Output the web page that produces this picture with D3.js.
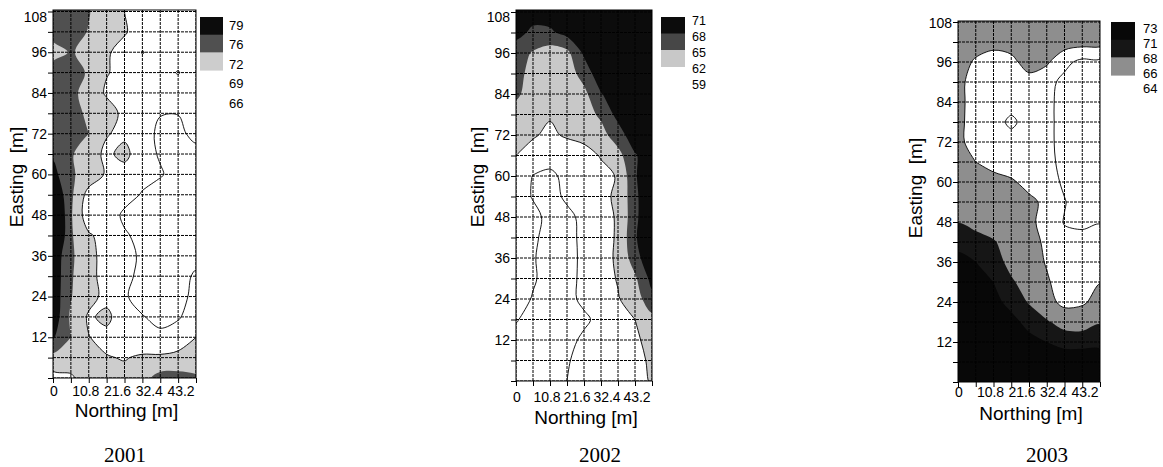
<!DOCTYPE html>
<html>
<head>
<meta charset="utf-8">
<script src="https://cdn.jsdelivr.net/npm/d3@7"></script>
<style>
  body { margin: 0; background: #fff; }
  text { font-family: "Liberation Sans", Arial, sans-serif; fill: #000; }
  .year { font-family: "Liberation Serif", "Times New Roman", serif; }
</style>
</head>
<body>
<svg id="chart" width="1163" height="467"></svg>
<script>
/* grid of the survey: columns along Northing, rows along Easting (top row = 108 m) */
var northing = [0, 5.4, 10.8, 16.2, 21.6, 27, 32.4, 37.8, 43.2];
var easting = [108, 102, 96, 90, 84, 78, 72, 66, 60, 54, 48, 42, 36, 30, 24, 18, 12, 6, 0];
var northingTicks = [0, 10.8, 21.6, 32.4, 43.2];
var eastingTicks = [12, 24, 36, 48, 60, 72, 84, 96, 108];
var years = ["2001", "2002", "2003"];

/* contour levels (legend values) per year */
var levels2001 = [66, 69, 72, 76, 79];
var levels2002 = [59, 62, 65, 68, 71];
var levels2003 = [64, 66, 68, 71, 73];

/* values at the grid nodes */
var grid2001 = [
  [78, 77.5, 76.2, 74, 72, 70.5, 70, 70, 70],
  [77.5, 77.5, 75.8, 74, 72.3, 70.5, 70, 70, 70],
  [74.5, 76.3, 75, 72.4, 70.8, 68.9, 69.8, 70, 70],
  [78, 77.5, 75.6, 72.2, 71, 70, 69.6, 68.9, 70],
  [78, 77, 74.5, 71.5, 70.5, 70, 70, 70, 70],
  [78, 77, 75.5, 73.8, 71, 70, 69.1, 69.05, 70],
  [78, 77.5, 76, 72.2, 71.3, 70, 68.5, 68.5, 69.6],
  [78.5, 76.5, 73.5, 71.3, 73, 69.8, 68.8, 68.2, 68.3],
  [80, 76.5, 74.5, 71.5, 70.5, 69.8, 69.2, 68.2, 68],
  [82, 76.8, 70.5, 70.5, 70, 68.8, 68, 67.5, 67.5],
  [84, 76.5, 69.5, 70.5, 68.5, 68, 67.5, 67.5, 67.5],
  [84, 76.5, 72.5, 70.5, 69.3, 68.3, 67.8, 67.8, 68],
  [81, 76.8, 72.8, 71, 69.6, 68.7, 68, 68, 68.3],
  [81, 76.5, 72.8, 71, 69.5, 68.5, 68, 68.2, 69.3],
  [81, 76.2, 73.2, 71, 69.2, 68.3, 68, 68.4, 69.5],
  [81, 75.5, 71.5, 72.8, 70, 69.1, 68.5, 68.8, 70],
  [79.3, 76, 72.1, 71, 70.5, 69.5, 69.4, 70, 72],
  [75, 73.8, 73, 72.2, 71.8, 72.5, 72.5, 73, 74],
  [70.5, 71.5, 73.5, 73, 73, 74.5, 77.5, 77.5, 76.5]
];

var grid2002 = [
  [72, 72, 72.5, 73, 73, 73.5, 73.5, 73.5, 73.5],
  [71.8, 70.5, 70.5, 72, 72.5, 73, 73.5, 73.5, 73.5],
  [69.5, 67.7, 66.5, 67.2, 71.5, 72, 73, 73.5, 73.5],
  [69, 67, 66, 66.5, 69.2, 73, 73, 73.5, 73.5],
  [68.6, 66.5, 65.5, 65.8, 67.2, 70.8, 73, 73.5, 73.5],
  [66.5, 65.8, 65.2, 65.6, 66.8, 68.5, 72, 73, 73.5],
  [65.8, 65.2, 64.6, 65.3, 65.8, 67, 69.5, 73, 73.5],
  [65, 64.2, 62.8, 63.5, 64, 65.2, 67, 70.7, 73],
  [64, 61.9, 61.6, 62.5, 63.5, 64.2, 65.2, 70.5, 75],
  [63.5, 61.8, 61, 62.5, 63.5, 64.3, 65.5, 70, 75],
  [63.8, 62.8, 61.2, 61.3, 62.7, 64, 65.3, 70, 75],
  [63.8, 62.5, 61, 61.2, 62.6, 64, 65.3, 70.5, 75],
  [63.5, 62.2, 61, 61.2, 62.5, 63.8, 65.5, 69.5, 74],
  [63.5, 62.3, 61, 61.3, 62.5, 63.8, 65.2, 67.5, 72],
  [63.2, 61.8, 61, 61.2, 62.6, 64, 64.8, 66.5, 70],
  [62.1, 61.5, 60.8, 61, 61.5, 62.8, 63.8, 65, 67],
  [61.5, 61, 60.8, 61.2, 62.5, 63.2, 63.8, 64.5, 66],
  [61.3, 61, 61, 61.8, 62.8, 63.3, 63.8, 64.3, 65.4],
  [61.3, 61, 61.2, 62, 63, 63.5, 63.8, 64.3, 65.2]
];

var grid2003 = [
  [69.5, 69.5, 69.5, 69.5, 69.5, 69.5, 69.5, 69.5, 69.5],
  [69.5, 69, 68.7, 68.8, 69.2, 69.5, 69, 68.8, 68.8],
  [69, 67.7, 67, 67.5, 68.8, 68.3, 66.5, 65.5, 65.5],
  [68.8, 66.8, 66.8, 66.8, 67.3, 66.6, 65.5, 65, 65],
  [68.8, 66.8, 66.8, 66.8, 66.8, 66.5, 65.3, 65, 65],
  [68.7, 66.8, 66.8, 65.6, 66.8, 66.5, 65.3, 64.8, 64.8],
  [68.7, 66.8, 66.8, 66.8, 66.8, 66.5, 65.3, 64.8, 64.8],
  [69.2, 68, 67, 66.8, 66.8, 66.5, 65.5, 64.8, 64.8],
  [69.5, 69.3, 69, 68.3, 67.3, 66.8, 65.7, 64.8, 64.8],
  [69.8, 69.5, 69.3, 69, 68.5, 67.5, 66.1, 65, 64.8],
  [70.9, 70.2, 69.8, 69.5, 68.5, 67.2, 65.9, 65.7, 65.9],
  [72.5, 72, 71.2, 70, 69, 67.5, 66.5, 66.5, 66.8],
  [73.5, 73, 72, 70.3, 69.2, 67.8, 66.8, 66.6, 66.8],
  [74, 73.5, 73, 71.3, 70, 68.3, 66.8, 66.8, 67.9],
  [74, 74, 73.5, 72.5, 70.8, 69, 67.2, 67.6, 69],
  [74, 74, 74, 73.5, 72.5, 71.3, 70, 69.8, 70.8],
  [74, 74, 74, 74, 73.5, 73, 72.5, 72.5, 72.5],
  [74, 74, 74, 74, 74, 74, 74, 74, 74],
  [74, 74, 74, 74, 74, 74, 74, 74, 74]
];

/* fill per level band (value >= level) */
var fills2001 = ["#fff", "#fff", "#cdcdcd", "#505050", "#0c0c0c"];
var fills2002 = ["#fff", "#fff", "#c8c8c8", "#474747", "#0c0c0c"];
var fills2003 = ["#fff", "#fff", "#8e8e8e", "#161616", "#080808"];

/* placement of each map on the page */
var layout = [
  {left: 53, right: 196, top: 11.5, bottom: 378, frameTop: 10, legX: 200, legY: 17, legW: 23, bandH: 17.7,
   labX: 229, labY: 25, labStep: 19.5, labFont: 13, xLabY: 391, titleY: 410, yearX: 125, eastX: 16, eastY: 177, topShift: 6},
  {left: 516, right: 652, top: 12, bottom: 381, frameTop: 10, legX: 661, legY: 17, legW: 24, bandH: 16.5,
   labX: 692, labY: 21, labStep: 16, labFont: 12.5, xLabY: 397, titleY: 417, yearX: 600, eastX: 477, eastY: 177, topShift: 5},
  {left: 958, right: 1100, top: 22, bottom: 382, frameTop: 21, legX: 1111, legY: 22, legW: 24, bandH: 17.7,
   labX: 1143, labY: 28, labStep: 15, labFont: 13, xLabY: 392, titleY: 413, yearX: 1047, eastX: 915, eastY: 188, topShift: 1}
];

var maps = [
  {grid: grid2001, levels: levels2001, fills: fills2001},
  {grid: grid2002, levels: levels2002, fills: fills2002},
  {grid: grid2003, levels: levels2003, fills: fills2003}
];

var svg = d3.select("#chart");
svg.append("rect").attr("width", 1163).attr("height", 467).attr("fill", "#fff");

var stepN = northing[1] - northing[0],
    stepE = easting[0] - easting[1];

years.forEach(function(year, k) {
  var L = layout[k], m = maps[k];

  var x = d3.scaleLinear().domain([0, 43.2]).range([L.left, L.right]),
      y = d3.scaleLinear().domain([0, 108]).range([L.bottom, L.top]);

  svg.append("clipPath").attr("id", "clip" + year)
    .append("rect")
      .attr("x", L.left).attr("y", L.frameTop)
      .attr("width", L.right - L.left).attr("height", L.bottom - L.frameTop);

  var g = svg.append("g");
  var plot = g.append("g").attr("clip-path", "url(#clip" + year + ")");

  /* contour bands from the node values; grid coords put node i at i + 0.5 */
  var contours = d3.contours()
      .size([northing.length, easting.length])
      .thresholds(m.levels)(m.grid.flat());

  var ring = d3.line()
      .x(function(p) { return x(northing[0] + (p[0] - 0.5) * stepN); })
      .y(function(p) { return y(easting[0] - (p[1] - 0.5) * stepE); })
      .curve(d3.curveCatmullRomClosed.alpha(0.5));

  function pathOf(c) {
    return c.coordinates.map(function(poly) {
      return poly.map(function(r) { return ring(r.slice(0, -1)); }).join("");
    }).join("");
  }

  plot.selectAll(".band")
    .data(contours)
    .enter().append("path")
      .attr("class", "band")
      .attr("d", pathOf)
      .attr("fill-rule", "evenodd")
      .attr("fill", function(c, i) { return m.fills[i]; });

  /* contour lines where the lower side is white */
  plot.selectAll(".iso")
    .data(contours.filter(function(c, i) { return i < 3; }))
    .enter().append("path")
      .attr("class", "iso")
      .attr("d", pathOf)
      .attr("fill", "none")
      .attr("stroke", "#000")
      .attr("stroke-width", 0.9);

  /* dashed survey grid */
  plot.selectAll(".vgrid")
    .data(northing)
    .enter().append("line")
      .attr("x1", function(d) { return x(d); }).attr("x2", function(d) { return x(d); })
      .attr("y1", L.frameTop).attr("y2", L.bottom)
      .attr("stroke", "#000").attr("stroke-width", 1).attr("stroke-dasharray", "3,1");

  plot.selectAll(".hgrid")
    .data(easting)
    .enter().append("line")
      .attr("x1", L.left).attr("x2", L.right)
      .attr("y1", function(d) { return y(d); }).attr("y2", function(d) { return y(d); })
      .attr("stroke", "#000").attr("stroke-width", 1).attr("stroke-dasharray", "3,1");

  g.append("rect")
    .attr("x", L.left).attr("y", L.frameTop)
    .attr("width", L.right - L.left).attr("height", L.bottom - L.frameTop)
    .attr("fill", "none").attr("stroke", "#000").attr("stroke-width", 1);

  /* axes: small ticks at every grid line */
  var yAxis = g.append("g")
      .attr("transform", "translate(" + L.left + ",0)")
      .call(d3.axisLeft(y).tickValues(easting).tickSize(5).tickFormat(""));
  yAxis.select(".domain").remove();

  var xAxis = g.append("g")
      .attr("transform", "translate(0," + L.bottom + ")")
      .call(d3.axisBottom(x).tickValues(northing).tickSize(5).tickFormat(""));
  xAxis.select(".domain").remove();

  g.selectAll(".ylab")
    .data(eastingTicks)
    .enter().append("text")
      .attr("x", L.left - 6)
      .attr("y", function(d) { return y(d) + (d === 108 ? L.topShift : 0); })
      .attr("dy", "0.35em")
      .attr("text-anchor", "end")
      .style("font-size", "14px")
      .text(function(d) { return d; });

  /* tick labels sit a bit compressed to the left in the original */
  var xLab = d3.scaleLinear().domain([0, 43.2]).range([L.left + 1, L.right - 15]);
  g.selectAll(".xlab")
    .data(northingTicks)
    .enter().append("text")
      .attr("x", function(d) { return xLab(d); })
      .attr("y", L.xLabY)
      .attr("dy", "0.35em")
      .attr("text-anchor", "middle")
      .style("font-size", "14px")
      .text(function(d) { return d; });

  g.append("text")
    .attr("x", (L.left + L.right) / 2 + 2)
    .attr("y", L.titleY)
    .attr("dy", "0.35em")
    .attr("text-anchor", "middle")
    .style("font-size", "19px")
    .text("Northing [m]");

  g.append("text")
    .attr("transform", "translate(" + L.eastX + "," + L.eastY + ") rotate(-90)")
    .attr("dy", "0.35em")
    .attr("text-anchor", "middle")
    .style("font-size", "19px")
    .style("white-space", "pre")
    .text("Easting  [m]");

  /* legend: coloured swatches for the top three levels, labels for all */
  var coloured = m.levels.slice(2).reverse(),
      colouredFill = m.fills.slice(2).reverse();
  g.selectAll(".swatch")
    .data(coloured)
    .enter().append("rect")
      .attr("x", L.legX)
      .attr("y", function(d, i) { return L.legY + i * L.bandH; })
      .attr("width", L.legW)
      .attr("height", L.bandH + 0.5)
      .attr("fill", function(d, i) { return colouredFill[i]; });

  g.selectAll(".leglab")
    .data(m.levels.slice().reverse())
    .enter().append("text")
      .attr("x", L.labX)
      .attr("y", function(d, i) { return L.labY + i * L.labStep; })
      .attr("dy", "0.35em")
      .style("font-size", L.labFont + "px")
      .text(function(d) { return d; });

  g.append("text")
    .attr("class", "year")
    .attr("x", L.yearX)
    .attr("y", 455)
    .attr("dy", "0.35em")
    .attr("text-anchor", "middle")
    .style("font-size", "21px")
    .text(year);
});
</script>
</body>
</html>
